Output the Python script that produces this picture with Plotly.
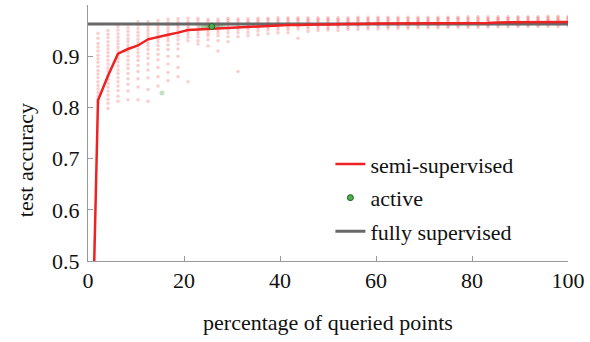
import plotly.graph_objects as go

# Percentage of queried points for the semi-supervised curve (48 query rounds)
rounds = list(range(1, 49))
pct = [round(100 * k / 48, 3) for k in rounds]

# Mean test accuracy of the semi-supervised learner (first point is the seed set)
semi_x = [0.3] + pct
semi_acc = [0.10,
            0.814, 0.862, 0.905, 0.914, 0.921, 0.933, 0.938, 0.942, 0.946, 0.951,
            0.952, 0.953, 0.954, 0.955, 0.956, 0.957, 0.959, 0.960, 0.960, 0.961,
            0.961, 0.962, 0.962, 0.962, 0.963, 0.963, 0.963, 0.964, 0.964, 0.964,
            0.964, 0.964, 0.964, 0.964, 0.965, 0.965, 0.965, 0.965, 0.965, 0.965,
            0.966, 0.966, 0.966, 0.966, 0.967, 0.967, 0.967, 0.967]

# Accuracies of the individual runs at each query round
runs = [
    [0.945, 0.935, 0.925, 0.918, 0.91, 0.902, 0.895, 0.888, 0.88, 0.872, 0.865, 0.858, 0.85, 0.843, 0.836, 0.829, 0.822, 0.815, 0.81],
    [0.95, 0.943, 0.936, 0.928, 0.921, 0.914, 0.907, 0.9, 0.892, 0.885, 0.877, 0.87, 0.862, 0.855, 0.847, 0.84, 0.832, 0.824, 0.816, 0.808, 0.798],
    [0.958, 0.951, 0.944, 0.937, 0.93, 0.924, 0.917, 0.91, 0.903, 0.896, 0.889, 0.881, 0.873, 0.866, 0.858, 0.85, 0.842, 0.833, 0.822, 0.812],
    [0.962, 0.955, 0.948, 0.941, 0.934, 0.928, 0.921, 0.915, 0.908, 0.9, 0.892, 0.884, 0.876, 0.866, 0.856, 0.845, 0.832, 0.815],
    [0.968, 0.961, 0.954, 0.947, 0.94, 0.933, 0.927, 0.921, 0.914, 0.907, 0.9, 0.892, 0.882, 0.87, 0.856, 0.84, 0.815],
    [0.968, 0.962, 0.956, 0.95, 0.944, 0.938, 0.932, 0.926, 0.92, 0.913, 0.905, 0.896, 0.885, 0.873, 0.858, 0.835, 0.812],
    [0.97, 0.964, 0.958, 0.952, 0.946, 0.94, 0.934, 0.928, 0.921, 0.913, 0.904, 0.893, 0.878, 0.86, 0.842],
    [0.972, 0.966, 0.96, 0.954, 0.948, 0.942, 0.936, 0.93, 0.922, 0.913, 0.9, 0.885, 0.868, 0.852],
    [0.973, 0.967, 0.961, 0.956, 0.95, 0.945, 0.939, 0.932, 0.924, 0.914, 0.9, 0.878, 0.86],
    [0.974, 0.968, 0.963, 0.958, 0.953, 0.948, 0.943, 0.937, 0.93, 0.85],
    [0.974, 0.969, 0.964, 0.959, 0.954, 0.949, 0.944, 0.938, 0.93, 0.924],
    [0.972, 0.968, 0.963, 0.959, 0.955, 0.95, 0.945, 0.94, 0.932, 0.92],
    [0.972, 0.968, 0.964, 0.96, 0.956, 0.951, 0.946, 0.94, 0.93, 0.91],
    [0.974, 0.97, 0.966, 0.962, 0.957, 0.952, 0.946, 0.938, 0.928],
    [0.973, 0.969, 0.965, 0.961, 0.957, 0.952, 0.946, 0.938, 0.87],
    [0.973, 0.969, 0.966, 0.962, 0.958, 0.953, 0.947, 0.94],
    [0.974, 0.97, 0.967, 0.963, 0.959, 0.955, 0.949, 0.942],
    [0.974, 0.971, 0.967, 0.964, 0.96, 0.956, 0.951, 0.944],
    [0.975, 0.971, 0.968, 0.964, 0.961, 0.957, 0.952, 0.946],
    [0.975, 0.972, 0.968, 0.965, 0.961, 0.957, 0.952, 0.946],
    [0.975, 0.972, 0.969, 0.965, 0.962, 0.958, 0.953, 0.935],
    [0.975, 0.972, 0.969, 0.966, 0.962, 0.958, 0.954, 0.948],
    [0.975, 0.972, 0.969, 0.966, 0.962, 0.959, 0.955, 0.95],
    [0.975, 0.972, 0.969, 0.966, 0.963, 0.959, 0.955, 0.951],
    [0.975, 0.972, 0.969, 0.966, 0.963, 0.96, 0.956, 0.95],
    [0.975, 0.972, 0.969, 0.966, 0.963, 0.96, 0.956, 0.952],
    [0.976, 0.973, 0.97, 0.967, 0.964, 0.961, 0.957, 0.952],
    [0.976, 0.973, 0.97, 0.967, 0.964, 0.961, 0.957, 0.953],
    [0.976, 0.973, 0.97, 0.967, 0.964, 0.961, 0.958, 0.953],
    [0.976, 0.973, 0.97, 0.967, 0.964, 0.961, 0.958, 0.954],
    [0.976, 0.973, 0.97, 0.967, 0.964, 0.961, 0.958, 0.954],
    [0.976, 0.973, 0.97, 0.967, 0.965, 0.962, 0.958, 0.954],
    [0.976, 0.973, 0.97, 0.968, 0.965, 0.962, 0.959, 0.955],
    [0.976, 0.973, 0.97, 0.968, 0.965, 0.962, 0.959, 0.955],
    [0.976, 0.973, 0.971, 0.968, 0.965, 0.962, 0.959, 0.955],
    [0.976, 0.974, 0.971, 0.968, 0.965, 0.962, 0.959, 0.956],
    [0.976, 0.974, 0.971, 0.968, 0.965, 0.963, 0.96, 0.956],
    [0.977, 0.974, 0.971, 0.968, 0.966, 0.963, 0.96, 0.956],
    [0.977, 0.974, 0.971, 0.968, 0.966, 0.963, 0.96, 0.956],
    [0.977, 0.974, 0.971, 0.969, 0.966, 0.963, 0.96, 0.957],
    [0.977, 0.974, 0.972, 0.969, 0.966, 0.963, 0.961, 0.957],
    [0.977, 0.974, 0.972, 0.969, 0.966, 0.964, 0.961, 0.957],
    [0.977, 0.975, 0.972, 0.969, 0.967, 0.964, 0.961, 0.958],
    [0.977, 0.975, 0.972, 0.969, 0.967, 0.964, 0.961, 0.958],
    [0.977, 0.975, 0.972, 0.97, 0.967, 0.964, 0.961, 0.958],
    [0.978, 0.975, 0.972, 0.97, 0.967, 0.965, 0.962, 0.958],
    [0.978, 0.975, 0.972, 0.97, 0.967, 0.965, 0.962, 0.958],
    [0.978, 0.975, 0.973, 0.97, 0.967, 0.965, 0.962, 0.959],
]

# Active learning: individual stopping points and their mean
active_runs_x = [23.6, 24.1, 24.6, 25.1, 25.6, 26.1, 26.6, 27.1, 27.6, 28.2, 15.4]
active_runs_acc = [0.957, 0.958, 0.958, 0.959, 0.959, 0.959, 0.96, 0.96, 0.96, 0.961, 0.828]
active_x = [25.8]
active_acc = [0.958]

# Fully supervised reference accuracy
full_x = [0, 100]
full_acc = [0.963, 0.963]

x_ticks = [0, 20, 40, 60, 80, 100]
y_ticks = [0.5, 0.6, 0.7, 0.8, 0.9]

RED = "#ee2222"
GREEN = "#3a9a3a"
GREY = "#686868"
FONT = "Times New Roman"
TXT = dict(family=FONT, size=22, color="#111111")

run_x, run_y = [], []
for x, vals in zip(pct, runs):
    run_x.extend([x] * len(vals))
    run_y.extend(vals)

fig = go.Figure()

fig.add_trace(go.Scatter(
    x=run_x, y=run_y, mode="markers", showlegend=False, hoverinfo="skip",
    marker=dict(size=3.5, color=RED, opacity=0.22, line=dict(width=0)),
))
fig.add_trace(go.Scatter(
    x=active_runs_x, y=active_runs_acc, mode="markers", showlegend=False,
    hoverinfo="skip",
    marker=dict(size=5, color=GREEN, opacity=0.3, line=dict(width=0)),
))
fig.add_trace(go.Scatter(
    x=full_x, y=full_acc, mode="lines", name="fully supervised",
    legendgroup="c", legendrank=3,
    line=dict(color=GREY, width=3),
))
fig.add_trace(go.Scatter(
    x=semi_x, y=semi_acc, mode="lines", name="semi-supervised",
    legendgroup="a", legendrank=1,
    line=dict(color=RED, width=2.5),
))
fig.add_trace(go.Scatter(
    x=active_x, y=active_acc, mode="markers", name="active",
    legendgroup="b", legendrank=2,
    marker=dict(size=6, color="#4caf50", line=dict(color="#1e5e1e", width=1)),
))

fig.update_xaxes(
    range=[0, 100], tickvals=x_ticks,
    showgrid=False, zeroline=False, showline=True, linecolor="#9a9a9a",
    linewidth=1, ticks="inside", ticklen=5, tickcolor="#9a9a9a",
    tickfont=TXT, ticklabeloverflow="allow",
    title=dict(text="percentage of queried points", font=TXT, standoff=22),
)
fig.update_yaxes(
    range=[0.5, 1.0], tickvals=y_ticks, tickformat=".1f",
    showgrid=False, zeroline=False, showline=True, linecolor="#9a9a9a",
    linewidth=1, ticks="inside", ticklen=5, tickcolor="#9a9a9a",
    tickfont=TXT, ticklabelstandoff=3,
)

# Vertical axis title, set a little below the axis midpoint
fig.add_annotation(
    text="test accuracy", textangle=-90, showarrow=False,
    xref="paper", yref="paper", x=0, y=0.394, xanchor="center",
    yanchor="middle", xshift=-63, font=TXT,
)

fig.update_layout(
    width=590, height=342,
    font=TXT,
    margin=dict(l=88, r=14, t=5, b=81),
    plot_bgcolor="white", paper_bgcolor="white",
    showlegend=True,
    legend=dict(
        x=0.505, y=0.46, xanchor="left", yanchor="top",
        font=TXT, bgcolor="rgba(0,0,0,0)", tracegroupgap=2,
        itemwidth=30,
    ),
)

fig.write_html("out.html")
